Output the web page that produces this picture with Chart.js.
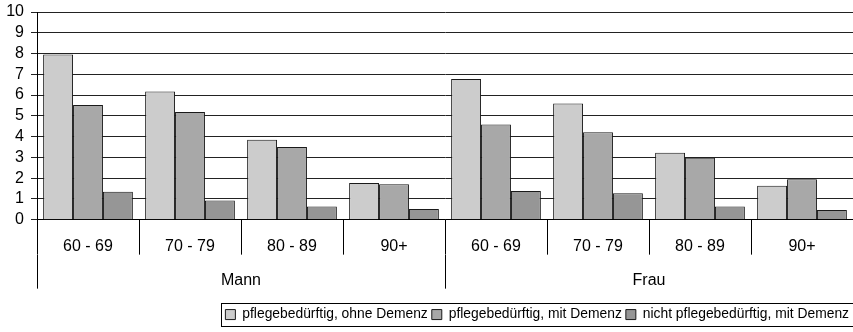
<!DOCTYPE html>
<html>
<head>
<meta charset="utf-8">
<script src="https://cdn.jsdelivr.net/npm/chart.js@4"></script>
<style>
  html, body { margin: 0; padding: 0; background: #ffffff; }
  #wrap { width: 853px; height: 332px; }
</style>
</head>
<body>
<div id="wrap"><canvas id="chart" width="853" height="332"></canvas></div>
<script>
// Age bands repeated inside each sex group
const ageGroups = ['60 - 69', '70 - 79', '80 - 89', '90+'];
const sexes = ['Mann', 'Frau'];

// Values per age band: Mann (4), then Frau (4)
const ohneDemenz = [7.95, 6.17, 3.85, 1.76, 6.77, 5.59, 3.22, 1.63];
const mitDemenz = [5.52, 5.19, 3.50, 1.71, 4.58, 4.21, 2.98, 1.94];
const nichtMitDemenz = [1.34, 0.92, 0.63, 0.51, 1.38, 1.27, 0.63, 0.47];

const seriesNames = [
  'pflegebedürftig, ohne Demenz',
  'pflegebedürftig, mit Demenz',
  'nicht pflegebedürftig, mit Demenz'
];
const yTicks = [0, 1, 2, 3, 4, 5, 6, 7, 8, 9, 10];

const labels = sexes.flatMap(() => ageGroups);

Chart.defaults.font.family = 'Arial, "Liberation Sans", sans-serif';
Chart.defaults.color = '#000000';

// Draws a thin frame around the legend items
const legendFrame = {
  id: 'legendFrame',
  afterDraw(chart) {
    const lg = chart.legend;
    if (!lg || !lg.legendHitBoxes || !lg.legendHitBoxes.length) return;
    const boxes = lg.legendHitBoxes;
    const left = Math.min(...boxes.map(b => b.left)) - 4;
    const right = Math.max(...boxes.map(b => b.left + b.width)) + 4;
    const top = Math.min(...boxes.map(b => b.top)) - 4.5;
    const bottom = Math.max(...boxes.map(b => b.top + b.height)) + 4.5;
    const ctx = chart.ctx;
    ctx.save();
    ctx.strokeStyle = '#000000';
    ctx.lineWidth = 1;
    ctx.strokeRect(Math.round(left) + 0.5, Math.round(top) + 0.5,
                   Math.round(right - left), Math.round(bottom - top));
    ctx.restore();
  }
};

const barStyle = { borderColor: '#1a1a1a', borderWidth: 1 };

new Chart(document.getElementById('chart'), {
  type: 'bar',
  data: {
    labels: labels,
    datasets: [
      Object.assign({ label: seriesNames[0], data: ohneDemenz, backgroundColor: '#cccccc' }, barStyle),
      Object.assign({ label: seriesNames[1], data: mitDemenz, backgroundColor: '#a8a8a8' }, barStyle),
      Object.assign({ label: seriesNames[2], data: nichtMitDemenz, backgroundColor: '#969696' }, barStyle)
    ]
  },
  options: {
    responsive: false,
    devicePixelRatio: 1,
    animation: false,
    layout: { padding: { left: 6, right: 0, top: 0.7, bottom: 0.5 } },
    datasets: {
      bar: { categoryPercentage: 0.88, barPercentage: 1.0 }
    },
    plugins: {
      tooltip: { enabled: false },
      legend: {
        position: 'bottom',
        align: 'end',
        labels: {
          boxWidth: 10,
          boxHeight: 10,
          padding: 4,
          font: { size: 13.85 },
          color: '#000000'
        }
      }
    },
    scales: {
      y: {
        min: 0,
        max: 10,
        afterBuildTicks(scale) {
          scale.ticks = yTicks.map(v => ({ value: v }));
        },
        ticks: { font: { size: 16 }, padding: 7, color: '#000000', autoSkip: false },
        grid: { color: '#222222', lineWidth: 1, tickLength: 6, drawTicks: true },
        border: { display: true, color: '#000000', width: 1 },
        afterFit(scale) { scale.width = 31; scale.paddingTop = 12; }
      },
      x: {
        weight: 0,
        offset: true,
        grid: {
          offset: true,
          drawOnChartArea: false,
          color: '#000000',
          tickLength: 35
        },
        border: { display: true, color: '#000000', width: 1 },
        ticks: { font: { size: 16 }, padding: -18, color: '#000000', maxRotation: 0, autoSkip: false },
        afterFit(scale) { scale.height = 35; }
      },
      x2: {
        type: 'category',
        position: 'bottom',
        weight: 1,
        labels: sexes,
        offset: true,
        grid: {
          offset: true,
          drawOnChartArea: false,
          color: '#000000',
          tickLength: 34
        },
        border: { display: false },
        ticks: { font: { size: 16 }, padding: -18, color: '#000000', maxRotation: 0 },
        afterFit(scale) { scale.height = 49; }
      }
    }
  },
  plugins: [legendFrame]
});
</script>
</body>
</html>
